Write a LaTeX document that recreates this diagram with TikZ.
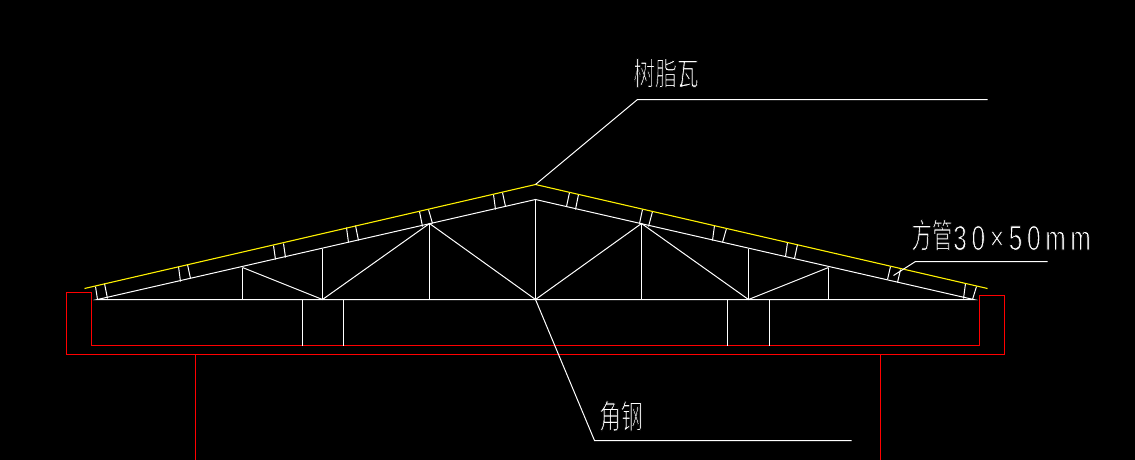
\documentclass[tikz,border=0pt]{standalone}
\usepackage{fontspec}
\newfontfamily\cjk{Noto Sans CJK SC}
\newfontfamily\latn{Liberation Sans}[LetterSpace=19]
\newcommand{\slimtext}[1]{\special{pdf:code 2 Tr 0 0 0 RG 0.9 w}#1\special{pdf:code 0 Tr}}
\tikzset{
  wl/.style={draw=white,line width=1pt},
  leader/.style={draw=white,line width=1pt},
  yl/.style={draw=yellow,line width=1.1pt},
  rd/.style={draw=red,line width=1.1pt},
  lbl/.style={text=white,inner sep=0pt,transform shape},
  lat/.style={text=white,inner sep=0pt,xscale=.7,transform shape,font=\latn\fontsize{35}{35}\selectfont}
}
\begin{document}
\begin{tikzpicture}[x=1pt,y=-1pt]
\path[fill=black,use as bounding box] (0,0) rectangle (1135,460);
\begin{scope}[shift={(.5,.5)}]
% red outline
\draw[rd,line join=miter] (66,354) -- (66,292) -- (91,292) -- (91,345) -- (979,345) -- (979,295) -- (1004,295) -- (1004,354) -- cycle;
\draw[rd] (195,354) -- (195,460);
\draw[rd] (880,354) -- (880,460);
% truss
\coordinate (apexU) at (535,199);
\coordinate (leftB) at (97,299);
\coordinate (rightB) at (973,299);
\draw[wl] (leftB) -- (apexU) -- (rightB) -- cycle;
\foreach \x/\t in {242/267,322/248,429/223,535/199,641/223,748/248,828/267}{\draw[wl] (\x,\t) -- (\x,299);}
\draw[wl] (242,267) -- (322,299) -- (429,223) -- (535,299) -- (641,223) -- (748,299) -- (828,267);
\foreach \x in {302,343,727,769}{\draw[wl] (\x,299) -- (\x,345);}
% blocks
\foreach \a/\b/\c/\d in {95/286/97/299,104/283/107/298,178/266/180/281,187/264/190/278,273/245/275/259,283/243/285/257,346/227/348/242,355/225/358/240,419/211/422/226,428/209/432/223,493/194/495/209,502/192/505/206,569/192/566/206,578/194/575/209,642/209/639/223,652/211/648/226,714/225/712/240,726/228/722/242,787/242/785/256,797/244/794/258,890/266/887/279,900/269/897/282,965/283/963/298,976/286/972/299}{\draw[wl] (\a,\b) -- (\c,\d);}
% roof
\coordinate (apex) at (535,184);
\draw[yl] (84,288) -- (apex) -- (987,288);
% leaders
\coordinate (b1) at (637,99); \coordinate (b1e) at (987,99);
\draw[leader] (apex) -- (b1) -- (b1e);
\coordinate (mid) at (535,299); \coordinate (b2) at (594,440); \coordinate (b2e) at (851,440);
\draw[leader] (mid) -- (b2) -- (b2e);
\coordinate (p3) at (893,275); \coordinate (b3) at (915,261); \coordinate (b3e) at (1047,261);
\draw[leader] (p3) -- (b3) -- (b3e);
\end{scope}
% labels
\node[lbl,xscale=.68,font=\cjk\fontsize{32}{32}\selectfont] (t1) at (666,73) {\slimtext{树脂瓦}};
\node[lbl,xscale=.66,font=\cjk\fontsize{33}{33}\selectfont] (t2) at (621,416) {\slimtext{角钢}};
\node[lbl,xscale=.6,font=\cjk\fontsize{34}{34}\selectfont] (t3) at (932,235) {\slimtext{方管}};
\node[lat] (t4) at (1022,238) {\slimtext{30×50mm}};
\end{tikzpicture}
\end{document}
